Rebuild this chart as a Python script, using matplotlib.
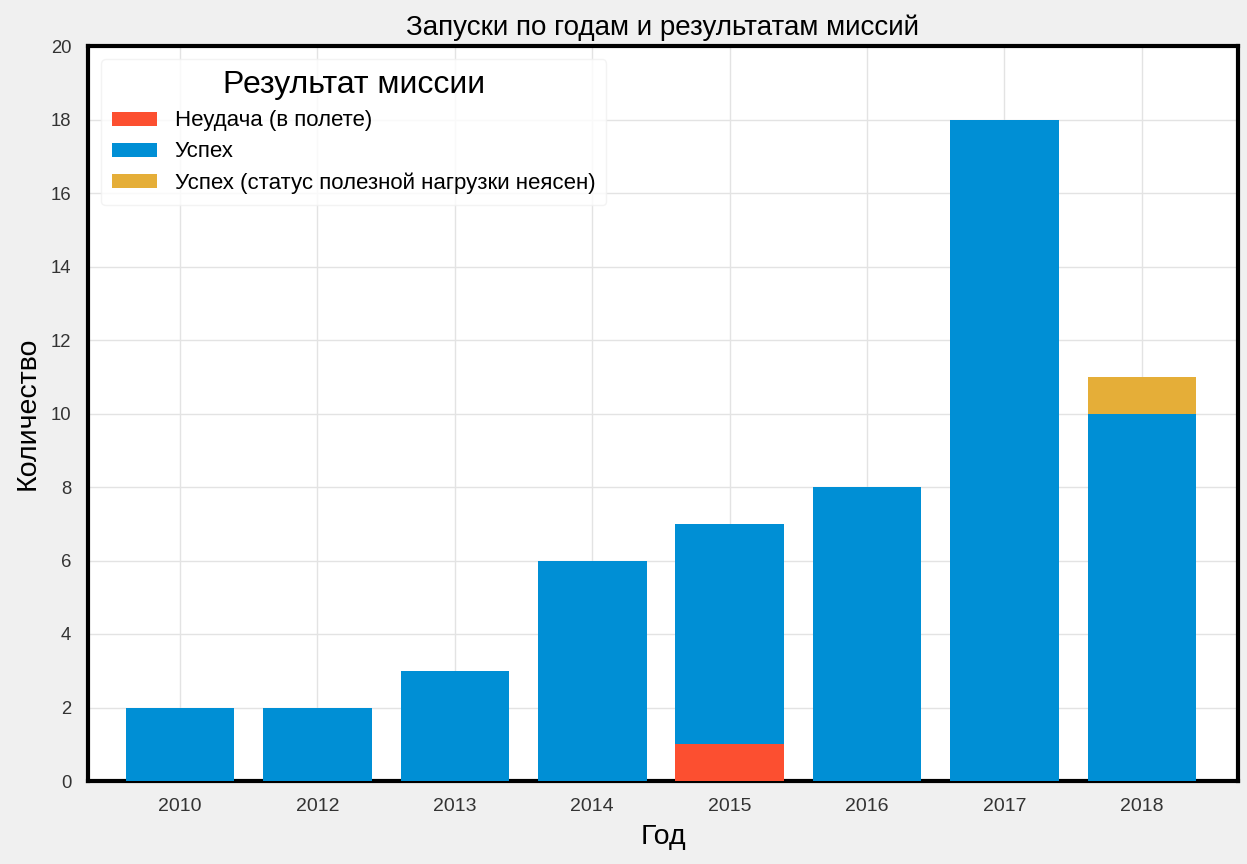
import numpy as np
import matplotlib
matplotlib.use("Agg")
import matplotlib.pyplot as plt

plt.rcParams["font.family"] = ["Liberation Sans", "DejaVu Sans"]

years = ["2010", "2012", "2013", "2014", "2015", "2016", "2017", "2018"]
failure = [0, 0, 0, 0, 1, 0, 0, 0]
success = [2, 2, 3, 6, 6, 8, 18, 10]
unclear = [0, 0, 0, 0, 0, 0, 0, 1]

labels = ["Неудача (в полете)", "Успех", "Успех (статус полезной нагрузки неясен)"]
colors = ["#fc4f30", "#008fd5", "#e5ae38"]

fig = plt.figure(figsize=(12.47, 8.64), dpi=100, facecolor="#f0f0f0")
ax = fig.add_axes([88 / 1247, 1 - 781 / 864, 1150 / 1247, 735 / 864])
ax.set_facecolor("white")

x = np.arange(len(years))
bottom = np.zeros(len(years))
for vals, lab, col in zip([failure, success, unclear], labels, colors):
    ax.bar(x, vals, width=0.79, bottom=bottom, color=col, label=lab, zorder=3)
    bottom += np.array(vals)

ax.set_xlim(-0.67, 7.7)
ax.set_ylim(0, 20)
ax.set_xticks(x)
ax.set_xticklabels(years)
ax.set_yticks(range(0, 21, 2))
ax.tick_params(axis="both", length=0, labelsize=13.3, labelcolor="#333333", pad=12)
ax.tick_params(axis="x", labelsize=14)
ax.grid(True, color="#e3e3e3", linewidth=1, zorder=0)

for s in ax.spines.values():
    s.set_color("black")
    s.set_linewidth(3)

ax.set_title("Запуски по годам и результатам миссий", fontsize=20, pad=8)
ax.set_xlabel("Год", fontsize=20.5, labelpad=7)
ax.set_ylabel("Количество", fontsize=20.5, labelpad=7)

leg = ax.legend(title="Результат миссии", loc="upper left", fontsize=16,
                title_fontsize=23, frameon=True, borderaxespad=0.6,
                handleheight=0.6, labelspacing=0.45, borderpad=0.5)
leg.get_frame().set_edgecolor("#f0f0f0")
leg.get_frame().set_facecolor("white")

fig.savefig("out.png", dpi=100, facecolor=fig.get_facecolor())
